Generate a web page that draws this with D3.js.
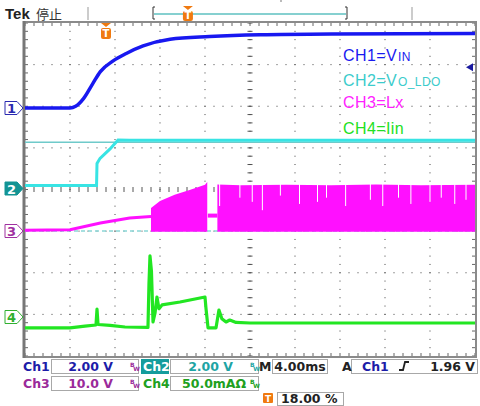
<!DOCTYPE html>
<html><head><meta charset="utf-8">
<script src="https://cdn.jsdelivr.net/npm/d3@7"></script>
<style>html,body{margin:0;padding:0;background:#fff;}svg{display:block;}</style>
</head><body>
<svg id="c" width="480" height="406"></svg>
<script>
// ---------- DATA ----------
const timeDomain = [-7.2, 32.8];          // ms (4 ms/div, trigger at 18%)
const triggerPct = 0.18;
// CH1 = VIN (2 V/div)
const ch1T = [-7.2, -3.2, -2.7, -2.0, -1.2, -0.5, 0.6, 1.8, 3.3, 5.7, 9.2, 13.7, 20, 32.8];
const ch1V = [0, 0, 0.08, 0.45, 1.15, 1.75, 2.25, 2.62, 2.98, 3.3, 3.43, 3.52, 3.56, 3.58];
// CH2 = VO_LDO (2 V/div)
const ch2T = [-7.2, -0.84, -0.80, -0.53, 0.36, 1.07, 2.1, 32.8];
const ch2V = [0.15, 0.15, 1.2, 1.45, 1.9, 2.33, 2.32, 2.32];
const ch2RefV = 2.22;                       // reference line
// CH3 = Lx (10 V/div)
const ch3PreT = [-7.2, -3.2, -0.5, 2.1, 4.0];
const ch3PreV = [0.2, 0.3, 1.9, 3.1, 3.5];
const ch3GapT = [9.05, 9.9];
const ch3GapV = [3.7, 3.7];
const ch3Sw1T = [4.0, 4.8, 6.1, 7.5, 8.8, 9.0];
const ch3Sw1V = [5.5, 7.2, 8.7, 9.9, 11.1, 11.8];
const ch3Sw2T = [9.9, 12, 16, 20, 24, 28, 32.8];
const ch3Sw2V = [11.2, 11.0, 11.1, 11.0, 11.2, 11.0, 11.1];
const ch3DropT = [10.1, 11.9, 13.0, 13.9, 15.5, 17.2, 18.8, 19.6, 21.3, 23.5, 24.6, 26.0, 27.1, 28.8, 29.8, 31.0, 32.0];
const ch3DropV = [6, 8, 7, 5, 8.5, 6.5, 7, 8, 6, 7.5, 6, 8, 6.5, 7, 8, 6.5, 7.5];
// CH4 = Iin (50 mA/div)
const ch4T = [-7.2, -3.2, -1.87, -0.89, -0.8, -0.71, 0.36, 1.69, 3.73, 3.82, 3.91, 4.04, 4.18, 4.36, 4.53, 4.71, 4.98, 6.58, 8.8, 8.89, 9.07, 9.78, 10.04, 10.3, 10.67, 11.0, 11.56, 12.8, 32.8];
const ch4I = [-13, -13, -11, -9.6, 9.6, -9, -10, -12, -12.5, 40, 73.5, 55, -6, 5, 24, 10, 14.5, 18, 24, 10, -13, -13, 8.4, -2, -6, -3.6, -6.5, -7.2, -7.2];
// legend & status labels
const legendMain = ["CH1=V", "CH2=V", "CH3=Lx", "CH4=Iin"];
const legendSub = ["IN", "O_LDO", "", ""];
const scaleLabels = ["2.00 V", "2.00 V", "10.0 V", "50.0mAΩ"];
const timebase = "4.00ms";
const trigLevel = 1.96;
const trigLabel = "1.96 V";
const trigPosLabel = "18.00 %";

// ---------- LAYOUT ----------
const svg = d3.select("#c");
const X0 = 25, X1 = 475, Y0 = 23, Y1 = 356;
const divX = (X1 - X0) / 10, divY = (Y1 - Y0) / 8;
const x = d3.scaleLinear().domain(timeDomain).range([X0, X1]);
const chY = (zeroY, perDiv) => d3.scaleLinear().domain([0, perDiv]).range([zeroY, zeroY - divY]);
const y1 = chY(108, 2), y2 = chY(188.5, 2), y3 = chY(231, 10), y4 = chY(317, 50);
const col = {c1: "#1818f0", c2: "#38e4e4", c3: "#ff10ff", c4: "#22e622"};
const font = "'DejaVu Sans', sans-serif";

// ---------- GRATICULE ----------
const g = svg.append("g");
for (let i = 1; i < 10; i++) {
  if (i === 5) continue;
  for (let j = 1; j < 40; j++) g.append("rect").attr("x", X0 + i * divX - 0.5).attr("y", Y0 + j * divY / 5 - 0.5).attr("width", 1).attr("height", 1).attr("fill", "#444");
}
for (let j = 1; j < 8; j++) {
  if (j === 4) continue;
  for (let i = 1; i < 50; i++) g.append("rect").attr("x", X0 + i * divX / 5 - 0.5).attr("y", Y0 + j * divY - 0.5).attr("width", 1).attr("height", 1).attr("fill", "#444");
}
const cx = X0 + 5 * divX, cy = Y0 + 4 * divY;
for (let j = 0; j <= 40; j++) {
  const yy = Y0 + j * divY / 5;
  g.append("line").attr("x1", cx - 2.5).attr("x2", cx + 2.5).attr("y1", yy).attr("y2", yy).attr("stroke", "#555").attr("stroke-width", 1);
  g.append("rect").attr("x", cx - 0.5).attr("y", yy - 0.5).attr("width", 1).attr("height", 1).attr("fill", "#444");
}
for (let i = 0; i <= 50; i++) {
  const xx = X0 + i * divX / 5;
  g.append("line").attr("x1", xx).attr("x2", xx).attr("y1", cy - 2.5).attr("y2", cy + 2.5).attr("stroke", "#555").attr("stroke-width", 1);
}
for (let i = 0; i <= 50; i++) {
  const xx = X0 + i * divX / 5;
  g.append("line").attr("x1", xx).attr("x2", xx).attr("y1", Y0).attr("y2", Y0 + 3).attr("stroke", "#666");
  g.append("line").attr("x1", xx).attr("x2", xx).attr("y1", Y1 - 3).attr("y2", Y1).attr("stroke", "#666");
}
for (let j = 0; j <= 40; j++) {
  const yy = Y0 + j * divY / 5;
  g.append("line").attr("x1", X0).attr("x2", X0 + 3).attr("y1", yy).attr("y2", yy).attr("stroke", "#666");
  g.append("line").attr("x1", X1 - 3).attr("x2", X1).attr("y1", yy).attr("y2", yy).attr("stroke", "#666");
}
g.append("rect").attr("x", X0 - 1).attr("y", Y0 - 1).attr("width", X1 - X0 + 2).attr("height", Y1 - Y0 + 2)
  .attr("fill", "none").attr("stroke", "#8a8a8a").attr("stroke-width", 2);
g.append("line").attr("x1", X0 - 1).attr("x2", X0 - 1).attr("y1", Y0 - 2).attr("y2", Y1 + 2).attr("stroke", "#777").attr("stroke-width", 3);

// ---------- TRACES ----------
const zip = (a, b) => a.map((t, i) => [t, b[i]]);
const tr = svg.append("g");
tr.append("line").attr("x1", X0).attr("x2", X1).attr("y1", y2(ch2RefV)).attr("y2", y2(ch2RefV)).attr("stroke", "#6fcaca").attr("stroke-width", 1.5);
tr.append("line").attr("x1", X0).attr("x2", X1).attr("y1", y3(0)).attr("y2", y3(0)).attr("stroke", "#8ad6d6").attr("stroke-width", 1.5).attr("stroke-dasharray", "4,3");
const area3 = d3.area().x(d => x(d[0])).y0(y3(-0.2)).y1(d => y3(d[1]));
tr.append("path").attr("d", area3(zip(ch3Sw1T, ch3Sw1V))).attr("fill", col.c3);
tr.append("path").attr("d", area3(zip(ch3Sw2T, ch3Sw2V))).attr("fill", col.c3);
ch3DropT.forEach((t, i) => {
  tr.append("line").attr("x1", x(t)).attr("x2", x(t)).attr("y1", y3(11.4)).attr("y2", y3(ch3DropV[i])).attr("stroke", "#ffffff").attr("stroke-width", 1);
});
const line = (ys) => d3.line().x(d => x(d[0])).y(d => ys(d[1]));
tr.append("path").attr("d", line(y3)(zip(ch3PreT, ch3PreV))).attr("fill", "none").attr("stroke", col.c3).attr("stroke-width", 3);
tr.append("path").attr("d", line(y3)(zip(ch3GapT, ch3GapV))).attr("fill", "none").attr("stroke", col.c3).attr("stroke-width", 4);
tr.append("path").attr("d", line(y2)(zip(ch2T, ch2V))).attr("fill", "none").attr("stroke", col.c2).attr("stroke-width", 3);
tr.append("path").attr("d", line(y4)(zip(ch4T, ch4I))).attr("fill", "none").attr("stroke", col.c4).attr("stroke-width", 3.2).attr("stroke-linejoin", "round");
tr.append("path").attr("d", d3.line().x(d => x(d[0])).y(d => y1(d[1])).curve(d3.curveMonotoneX)(zip(ch1T, ch1V)))
  .attr("fill", "none").attr("stroke", col.c1).attr("stroke-width", 3.5);

// ---------- LEGEND ----------
const legCols = ["#1a1af0", "#3ccccc", "#ff22ff", "#22e022"];
const legY = [61, 86, 108, 134];
legendMain.forEach((m, i) => {
  const t = svg.append("text").attr("x", 343).attr("y", legY[i]).attr("fill", legCols[i])
    .attr("font-family", "'Liberation Sans', Arial, sans-serif").attr("font-size", 16).attr("letter-spacing", 0.4);
  t.append("tspan").text(m);
  if (legendSub[i]) t.append("tspan").attr("font-size", 12).attr("dx", 1).text(legendSub[i]);
});
const ty = y1(trigLevel);
svg.append("path").attr("d", `M466,${ty} L473,${ty - 4} L473,${ty + 4} Z`).attr("fill", "#1a1aa0");

// ---------- CHANNEL MARKERS ----------
function marker(yc, label, stroke, fill, txt) {
  svg.append("path").attr("d", `M5,${yc - 6.5} L17,${yc - 6.5} L23,${yc} L17,${yc + 6.5} L5,${yc + 6.5} Z`)
    .attr("fill", fill).attr("stroke", stroke).attr("stroke-width", 1);
  svg.append("text").attr("x", 11.5).attr("y", yc + 5).attr("text-anchor", "middle").attr("fill", txt)
    .attr("font-family", font).attr("font-weight", "bold").attr("font-size", 13).text(label);
}
marker(y1(0), "1", "#2a2ab0", "#fff", "#2a2ab0");
marker(y2(0), "2", "#139494", "#139494", "#fff");
marker(y3(0), "3", "#a030a0", "#fff", "#a030a0");
marker(y4(0), "4", "#30b030", "#fff", "#30b030");

// ---------- TRIGGER ICONS ----------
function tIcon(xc, top, h) {
  svg.append("path").attr("d", `M${xc - 5},${top} L${xc + 5},${top} L${xc},${top + 4} Z`).attr("fill", "#f07a10");
  svg.append("rect").attr("x", xc - 5).attr("y", top + 5).attr("width", 10).attr("height", h).attr("rx", 2).attr("fill", "#f07a10");
  svg.append("text").attr("x", xc).attr("y", top + 5 + h - 2).attr("text-anchor", "middle").attr("fill", "#fff")
    .attr("font-family", font).attr("font-weight", "bold").attr("font-size", 10).text("T");
}
tIcon(x(0), Y0, 11);

// ---------- TOP BAR ----------
svg.append("text").attr("x", 5).attr("y", 19).attr("font-family", "'Liberation Sans', Arial, sans-serif").attr("font-weight", "bold")
  .attr("font-size", 15).attr("fill", "#222").text("Tek");
svg.append("text").attr("x", 36).attr("y", 19).attr("font-family", "'Noto Sans CJK SC', sans-serif")
  .attr("font-size", 13).attr("fill", "#333").text("停止");
[88, 412].forEach(xx => svg.append("line").attr("x1", xx).attr("x2", xx).attr("y1", 7).attr("y2", 20).attr("stroke", "#bbb").attr("stroke-width", 1.5));
const bx0 = 153, bx1 = 347;
svg.append("line").attr("x1", bx0 + 1).attr("x2", bx1 - 1).attr("y1", 14).attr("y2", 14).attr("stroke", "#86d0d0").attr("stroke-width", 2);
svg.append("path").attr("d", `M${bx0 + 2},7 L${bx0},7 L${bx0},19 L${bx0 + 2},19 M${bx1 - 2},7 L${bx1},7 L${bx1},19 L${bx1 - 2},19`)
  .attr("fill", "none").attr("stroke", "#333").attr("stroke-width", 1);
tIcon(bx0 + triggerPct * (bx1 - bx0), 6, 10);
svg.append("line").attr("x1", 280).attr("x2", 282).attr("y1", 1).attr("y2", 1).attr("stroke", "#bbb").attr("stroke-width", 2);

// ---------- STATUS AREA ----------
const st = svg.append("g").attr("font-family", font).attr("font-weight", "bold").attr("font-size", 12.5);
function box(x0, y0, w, h) {
  st.append("rect").attr("x", x0 + 0.5).attr("y", y0 + 0.5).attr("width", w).attr("height", h).attr("fill", "#fff").attr("stroke", "#a8a8a8");
}
function txt(xx, yy, s, c, anchor) {
  return st.append("text").attr("x", xx).attr("y", yy).attr("fill", c).attr("text-anchor", anchor || "start").text(s);
}
function bw(xx, yy, c) {
  const t = st.append("text").attr("x", xx).attr("y", yy - 5).attr("font-size", 6).attr("fill", c);
  t.append("tspan").text("B");
  t.append("tspan").attr("dy", 4).attr("dx", -1).text("W");
}
const sc = {c1: "#1c1ca8", c2: "#1ea4a4", c3: "#9a2a9a", c4: "#20a020"};
box(51, 359, 87, 14); box(170, 359, 88, 14); box(272, 359, 55, 14); box(351, 359, 126, 14);
txt(23, 371, "Ch1", sc.c1);
txt(113, 371, scaleLabels[0], sc.c1, "end");
bw(130, 372, sc.c3);
st.append("rect").attr("x", 141).attr("y", 359).attr("width", 28).attr("height", 15).attr("fill", "#149c9c");
txt(143, 371, "Ch2", "#fff");
txt(233, 371, scaleLabels[1], sc.c2, "end");
bw(250, 372, sc.c2);
txt(259, 371, "M", "#222");
txt(300, 371, timebase, "#222", "middle");
txt(342, 371, "A", "#222");
txt(362, 371, "Ch1", sc.c1);
st.append("path").attr("d", "M399,370 L403,370 L405,362 L409,362").attr("fill", "none").attr("stroke", "#222").attr("stroke-width", 1.8);
txt(475, 371, trigLabel, "#222", "end");
box(51, 376, 87, 14); box(170, 376, 88, 14);
txt(23, 388, "Ch3", sc.c3);
txt(113, 388, scaleLabels[2], sc.c3, "end");
bw(130, 389, sc.c3);
txt(143, 388, "Ch4", sc.c4);
txt(182, 388, scaleLabels[3], sc.c4);
bw(250, 389, sc.c4);
st.append("rect").attr("x", 263).attr("y", 393).attr("width", 10).attr("height", 10).attr("rx", 1).attr("fill", "#f07a10");
txt(268, 402, "T", "#fff", "middle").attr("font-size", 9);
box(277, 392, 66, 13);
txt(281, 403, trigPosLabel, "#222");
</script>
</body></html>
